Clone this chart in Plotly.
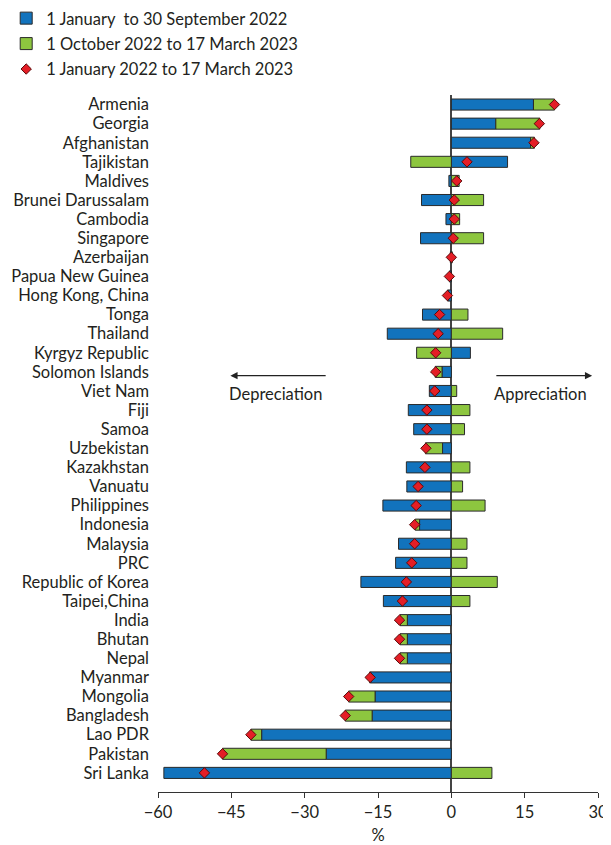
import plotly.graph_objects as go

countries = ["Armenia", "Georgia", "Afghanistan", "Tajikistan", "Maldives",
             "Brunei Darussalam", "Cambodia", "Singapore", "Azerbaijan",
             "Papua New Guinea", "Hong Kong, China", "Tonga", "Thailand",
             "Kyrgyz Republic", "Solomon Islands", "Viet Nam", "Fiji", "Samoa",
             "Uzbekistan", "Kazakhstan", "Vanuatu", "Philippines", "Indonesia",
             "Malaysia", "PRC", "Republic of Korea", "Taipei,China", "India",
             "Bhutan", "Nepal", "Myanmar", "Mongolia", "Bangladesh", "Lao PDR",
             "Pakistan", "Sri Lanka"]

# 1 January to 30 September 2022 (%)
jan_sep_2022 = [16.8, 9.1, 16.2, 11.5, -0.5, -6.1, -1.1, -6.3, -0.2, -0.4,
                -0.7, -5.9, -13.1, 3.9, -1.9, -4.5, -8.8, -7.7, -1.8, -9.2,
                -9.1, -14.0, -6.5, -10.8, -11.4, -18.5, -13.9, -9.0, -9.0,
                -9.0, -16.5, -15.6, -16.2, -38.8, -25.6, -58.8]

# 1 October 2022 to 17 March 2023 (%)
oct_mar_2023 = [4.3, 9.0, 0.8, -8.3, 1.6, 6.6, 1.7, 6.6, 0.2, 0.0,
                -0.1, 3.4, 10.5, -7.1, -1.4, 1.1, 3.8, 2.7, -3.5, 3.8,
                2.3, 6.9, -0.9, 3.2, 3.2, 9.4, 3.8, -1.5, -1.5,
                -1.5, -0.2, -5.4, -5.5, -2.2, -21.2, 8.3]

# 1 January 2022 to 17 March 2023 (%)
jan_2022_mar_2023 = [21.1, 18.0, 16.9, 3.2, 1.1, 0.6, 0.6, 0.4, 0.0, -0.4,
                     -0.8, -2.4, -2.7, -3.2, -3.2, -3.4, -5.0, -5.0, -5.2, -5.4,
                     -6.8, -7.2, -7.5, -7.5, -8.1, -9.2, -10.0, -10.6, -10.6,
                     -10.6, -16.6, -21.0, -21.7, -41.0, -46.8, -50.5]

x_ticks = [-60, -45, -30, -15, 0, 15, 30]

FONT = "Lato"
TXT = "#231f20"
FS = 16.5

fig = go.Figure()
fig.add_trace(go.Bar(
    y=countries, x=jan_sep_2022, orientation="h",
    name="1 January  to 30 September 2022",
    marker=dict(color="#1273bd", line=dict(color="#2a2a2a", width=1)),
    width=0.58, legendgroup="a"))
fig.add_trace(go.Bar(
    y=countries, x=oct_mar_2023, orientation="h",
    name="1 October 2022 to 17 March 2023",
    marker=dict(color="#8dc63f", line=dict(color="#2a2a2a", width=1)),
    width=0.58, legendgroup="b"))
fig.add_trace(go.Scatter(
    y=countries, x=jan_2022_mar_2023, mode="markers",
    name="1 January 2022 to 17 March 2023",
    marker=dict(symbol="diamond", size=8, color="#e41e26",
                line=dict(color="#5a0a0a", width=1)),
    legendgroup="c"))

fig.update_layout(
    width=603, height=837,
    margin=dict(l=150, r=13, t=87, b=53, autoexpand=False),
    barmode="relative",
    plot_bgcolor="white", paper_bgcolor="white",
    font=dict(family=FONT, size=FS, color=TXT),
    showlegend=True,
    legend=dict(x=-0.345, y=1.135, xanchor="left", yanchor="top",
                bgcolor="rgba(0,0,0,0)", tracegroupgap=1,
                font=dict(size=FS, color=TXT)),
    xaxis=dict(range=[-60, 30], tickvals=x_ticks,
               ticks="outside", ticklen=5, tickcolor="#333",
               showline=True, linecolor="#333", linewidth=1.2,
               showgrid=False, zeroline=True, zerolinecolor="#444",
               zerolinewidth=1.5, layer="above traces",
               tickfont=dict(size=FS, color=TXT),
               title=dict(text="%", standoff=28, font=dict(size=FS, color=TXT))),
    yaxis=dict(type="category", categoryorder="array", categoryarray=countries,
               tickmode="array", tickvals=countries, ticktext=countries,
               range=[36.0, -0.5], showgrid=False, zeroline=False,
               showline=False, ticks="", ticklabelstandoff=8,
               tickfont=dict(size=FS, color=TXT)),
)

fig.add_annotation(xref="x", yref="paper", axref="x", ayref="pixel",
                   x=-45.2, y=0.5973, ax=-25.4, ay=0, text="",
                   showarrow=True, arrowhead=2, arrowsize=1.2, arrowwidth=1.2,
                   arrowcolor="#222")
fig.add_annotation(xref="x", yref="paper", axref="x", ayref="pixel",
                   x=28.8, y=0.5973, ax=8.9, ay=0, text="",
                   showarrow=True, arrowhead=2, arrowsize=1.2, arrowwidth=1.2,
                   arrowcolor="#222")
fig.add_annotation(xref="x", yref="paper", x=-36.0, y=0.571,
                   text="Depreciation", showarrow=False,
                   font=dict(size=FS, color=TXT))
fig.add_annotation(xref="x", yref="paper", x=18.2, y=0.571,
                   text="Appreciation", showarrow=False,
                   font=dict(size=FS, color=TXT))

fig.write_html("out.html")
